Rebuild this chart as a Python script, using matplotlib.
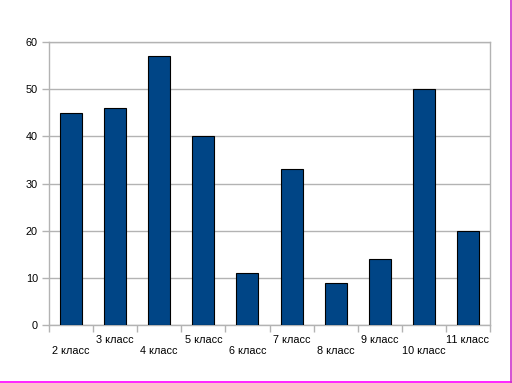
import matplotlib
matplotlib.use('Agg')
from matplotlib import pyplot as plt
from matplotlib.lines import Line2D

classes = ['2 класс', '3 класс', '4 класс', '5 класс', '6 класс',
           '7 класс', '8 класс', '9 класс', '10 класс', '11 класс']
values = [45, 46, 57, 40, 11, 33, 9, 14, 50, 20]
y_ticks = [0, 10, 20, 30, 40, 50, 60]

plt.rcParams['font.family'] = ['Liberation Sans', 'DejaVu Sans']

fig = plt.figure(figsize=(5.12, 3.83), dpi=100)
ax = fig.add_axes([49 / 512, 1 - 325 / 383, 441 / 512, 283 / 383])

x = list(range(len(classes)))
ax.bar(x, values, width=0.5, color='#004586', edgecolor='black', linewidth=0.8, zorder=3)

ax.set_xlim(-0.5, len(classes) - 0.5)
ax.set_ylim(0, 60)
ax.set_yticks(y_ticks)
ax.yaxis.grid(True, color='#b3b3b3', linewidth=1, zorder=0)

# staggered category labels
labels = [('\n' + c) if i % 2 == 0 else (c + '\n') for i, c in enumerate(classes)]
ax.set_xticks(x)
ax.set_xticklabels(labels, fontsize=7.8, linespacing=1.15)
ax.tick_params(axis='x', which='major', length=0, pad=7)
ax.set_xticks([i - 0.5 for i in range(len(classes) + 1)], minor=True)
ax.tick_params(axis='x', which='minor', length=5, color='#b3b3b3', width=1)
ax.tick_params(axis='y', length=5, color='#b3b3b3', width=1, labelsize=7.8, pad=3)

for s in ax.spines.values():
    s.set_color('#b3b3b3')
    s.set_linewidth(1)

# magenta frame edges
fig.add_artist(Line2D([0, 1], [1.5 / 383, 1.5 / 383], color='#ff00ff', linewidth=1.2, transform=fig.transFigure))
fig.add_artist(Line2D([510.5 / 512, 510.5 / 512], [0, 1], color='#cc33cc', linewidth=1.2, transform=fig.transFigure))

fig.savefig('out.png', dpi=100)
